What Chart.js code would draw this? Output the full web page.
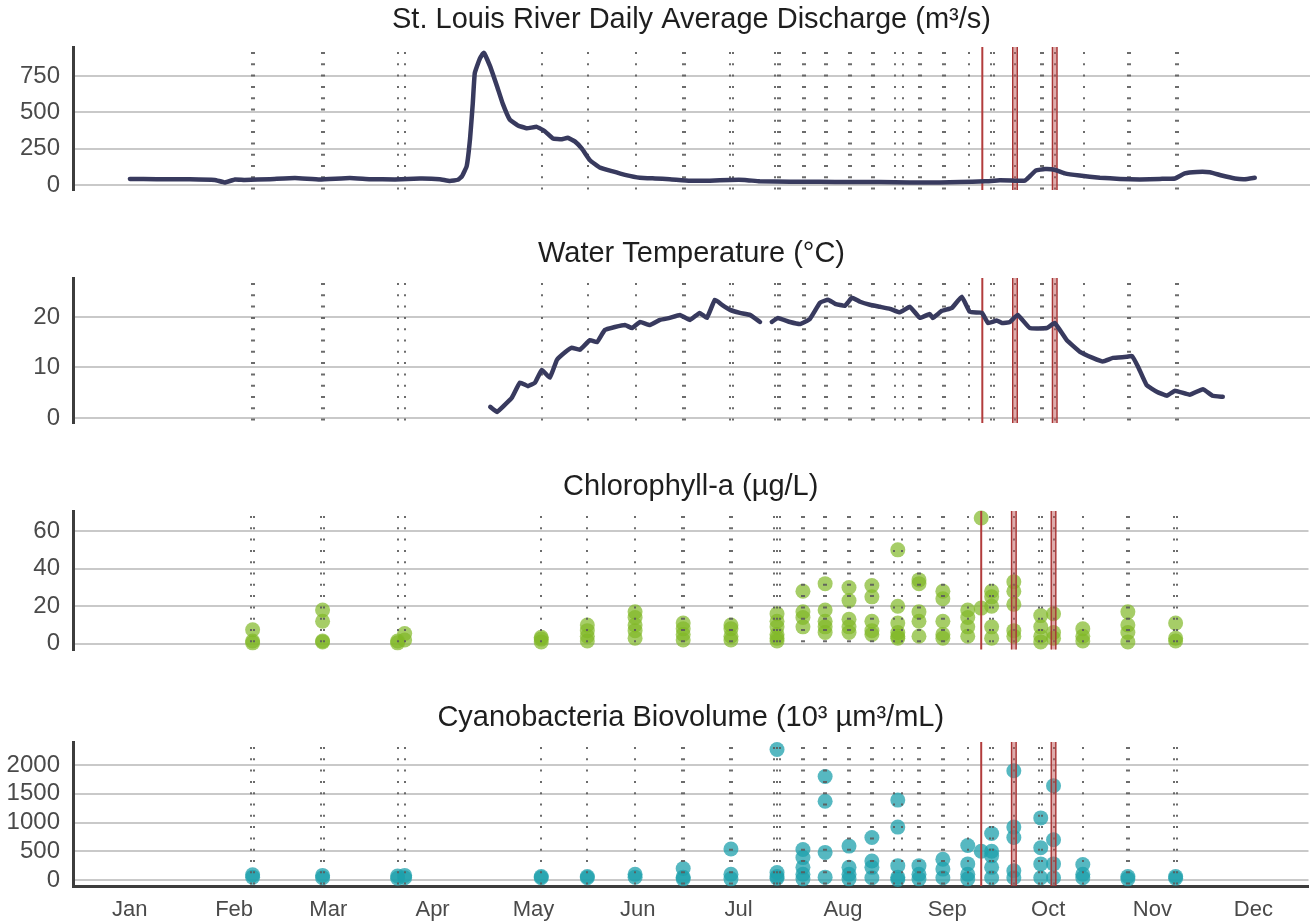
<!DOCTYPE html>
<html>
<head>
<meta charset="utf-8">
<script src="https://cdn.jsdelivr.net/npm/chart.js@4.4.1/dist/chart.umd.min.js"></script>
<style>
  html, body { margin: 0; padding: 0; background: #fff; overflow: hidden; }
  canvas { position: absolute; left: 0; }
</style>
</head>
<body>
<canvas id="cQ" width="1316" height="192" style="top:0px"></canvas>
<canvas id="cT" width="1316" height="194" style="top:231px"></canvas>
<canvas id="cChl" width="1316" height="193" style="top:464px"></canvas>
<canvas id="cCy" width="1316" height="228" style="top:695px"></canvas>
<script>
// --- Data (x = day of year) ---
const monthStarts = [1, 32, 60, 91, 121, 152, 182, 213, 244, 274, 305, 335];
const monthNames = ['Jan', 'Feb', 'Mar', 'Apr', 'May', 'Jun', 'Jul', 'Aug', 'Sep', 'Oct', 'Nov', 'Dec'];

// daily average discharge (m3/s)
const qDays = [1, 9, 18.8, 26.2, 29.2, 32.2, 35, 42.6, 50, 57.4, 66.3, 72.3, 79.7, 87.1, 93, 96, 98.4, 99.6, 101, 102,
  102.8, 103.4, 104.9, 106.1, 107.9, 110, 111.7, 113.8, 116.2, 118.9, 121.8, 124.2, 126.6, 129.3, 131, 133.1, 135.2, 137.6, 140.5, 144.1,
  148, 152.4, 156.9, 161.3, 167.3, 173.2, 179.1, 183.6, 188, 197, 205.9, 214.8, 223.7, 232.6, 241.5, 247.4, 254.9, 259.3, 263.8, 266.7,
  268.2, 270, 272.7, 275.6, 278.6, 283, 289, 295, 300.9, 306.8, 311.3, 314.2, 317.8, 321.7, 325.2, 329.1, 332, 335];
const qVals = [42, 40, 40, 35, 18, 38, 35, 40, 48, 38, 48, 40, 38, 44, 40, 28, 36, 60, 130, 320,
  560, 770, 870, 910, 820, 680, 560, 450, 410, 390, 400, 370, 320, 315, 325, 300, 250, 170, 120, 95,
  70, 50, 45, 40, 30, 30, 35, 35, 25, 22, 22, 20, 20, 18, 18, 20, 25, 32, 30, 30,
  60, 100, 110, 105, 80, 65, 50, 42, 38, 42, 45, 80, 90, 88, 65, 45, 40, 50];

// water temperature (deg C), null = gap in record
const tDays = [108, 110, 112.3, 114.4, 116.8, 119.2, 121.3, 123.3, 125.7, 127.8, 130.2, 132.2, 134.6, 137.6, 139.7, 142, 145, 148, 150.1, 152.5,
  155.4, 158.4, 161.3, 164.3, 167.3, 170.2, 172.3, 174.7, 176.8, 179.2, 182.1, 185.1, 188.1, 189.8, 191.6, 193.4, 197, 200, 202.9, 205.9,
  208.3, 210.4, 213.3, 215.4, 217.8, 220.7, 223.7, 226.7, 229.6, 232.6, 235.6, 238.5, 239.4, 242.1, 245.1, 248, 250.4, 254, 255.8, 258.4,
  259.9, 262.3, 264.6, 268.2, 273.3, 275.6, 279.2, 283.1, 286.9, 289.9, 292.9, 297, 298.5, 300.3, 302.9, 305.9, 308.9, 311.3, 315.7, 319.6,
  322.5, 325.5];
const tVals = [2.2, 1.2, 2.6, 4.0, 7.0, 6.3, 7.0, 9.5, 8.0, 11.5, 13.0, 13.9, 13.5, 15.4, 15.0, 17.4, 18.0, 18.4, 17.8, 19.0,
  18.4, 19.4, 19.8, 20.4, 19.4, 20.8, 19.8, 23.4, 22.4, 21.4, 20.8, 20.4, 19.0, null, 19.0, 19.8, 19.0, 18.6, 19.6, 22.8,
  23.4, 22.6, 22.2, 23.8, 23.0, 22.4, 22.0, 21.6, 20.9, 22.0, 19.8, 20.6, 19.8, 21.2, 21.8, 24.0, 21.0, 20.8, 18.8, 19.3,
  18.8, 19.0, 20.4, 17.8, 17.8, 18.8, 15.4, 13.1, 11.9, 11.2, 11.9, 12.1, 12.3, 10.2, 6.5, 5.2, 4.4, 5.4, 4.6, 5.7,
  4.4, 4.2];

// sampling dates (dotted lines) and number of stations sampled that date
const sampleDays = [37.5, 58.3, 80.6, 82.7, 123.3, 137.0, 151.2, 165.5, 179.7, 193.4, 201.1, 207.7, 214.8, 221.6, 228.1, 230.5,
  235.6, 242.7, 250.1, 257.2, 263.8, 271.8, 275.6, 284.3, 297.7, 311.9];
const sampleSites = [2, 2, 1, 1, 1, 1, 1, 2, 2, 3, 2, 2, 2, 2, 1, 1, 2, 2, 1, 2, 1, 2, 1, 1, 2, 2];
// bloom dates (red lines)
const bloomDays = [254.1, 263.8, 275.6];
const bloomMulti = [false, true, true];

// sample dates for chlorophyll / cyanobacteria points
const obsDays = [37.5, 58.3, 80.6, 82.7, 123.3, 137.0, 151.2, 165.5, 179.7, 193.4, 201.1, 207.7, 214.8, 221.6, 229.3,
  235.6, 242.7, 250.1, 254.1, 257.2, 263.8, 271.8, 275.6, 284.3, 297.7, 311.9];
const chlVals = [
  [0.5, 1.5, 7.5], [1, 1.5, 12, 18], [0.5, 1.5], [2, 5.5], [1, 2.5, 3.5], [1.5, 4, 7, 10], [3, 7, 10, 14, 17],
  [2, 5, 8, 11], [2, 4, 8, 10], [1.5, 3, 5, 9, 12, 16], [9, 14, 17, 28], [6, 9, 12, 18, 32], [6, 9, 13, 23, 30],
  [5, 7, 12, 25, 31], [3, 4, 6, 11, 20, 50], [4, 12, 17, 32, 34], [3, 5, 12, 24, 28], [4, 9, 14, 18], [19, 67],
  [3, 9, 20, 25, 28], [4, 7, 21, 28, 33], [1, 4, 9, 15], [3, 6, 16], [1.5, 4, 8], [1, 6, 10, 17], [1.5, 3, 11]
];
const cyanoVals = [
  [50, 90], [40, 80], [30, 70], [40, 80], [40, 60], [40, 60], [50, 100],
  [20, 50, 200], [20, 100, 540], [30, 60, 130, 2270], [20, 100, 220, 390, 530], [50, 480, 1370, 1800], [20, 100, 220, 590],
  [40, 220, 330, 740], [10, 50, 250, 920, 1390], [20, 100, 250], [40, 190, 360], [20, 100, 280, 600], [500],
  [40, 220, 420, 500, 810], [40, 160, 740, 920, 1900], [40, 280, 560, 1080], [40, 280, 700, 1640], [40, 100, 270], [20, 60], [30, 60]
];

const qTicks = [0, 250, 500, 750];
const tTicks = [0, 10, 20];
const chlTicks = [0, 20, 40, 60];
const cyTicks = [0, 500, 1000, 1500, 2000];

// --- Styling ---
Chart.defaults.font.family = '"Liberation Sans", Arial, Helvetica, sans-serif';
const TXT = '#4a4a4a';
const LINE = '#383a5e';

// vertical reference lines: sampling dates (dotted) and bloom dates (red)
const refLines = {
  id: 'refLines',
  beforeDatasetsDraw(chart, args, opts) { if (!opts.over) drawRefs(chart); },
  afterDatasetsDraw(chart, args, opts) { if (opts.over) drawRefs(chart); }
};

function drawRefs(chart) {
  const ctx = chart.ctx, xs = chart.scales.x, a = chart.chartArea;
  ctx.save();
  ctx.strokeStyle = '#5c5c5c';
  ctx.lineWidth = 1.8;
  ctx.setLineDash([2, 9.3]);
  sampleDays.forEach((d, i) => {
    const n = sampleSites[i];
    for (let k = 0; k < n; k++) {
      const px = Math.round(xs.getPixelForValue(d) + (k - (n - 1) / 2) * 2.6);
      ctx.beginPath();
      ctx.moveTo(px, a.top + 5);
      ctx.lineTo(px, a.bottom);
      ctx.stroke();
    }
  });
  ctx.setLineDash([]);
  bloomDays.forEach((d, i) => {
    const px = xs.getPixelForValue(d);
    if (bloomMulti[i]) {
      ctx.fillStyle = 'rgba(190,90,90,0.5)';
      ctx.fillRect(px - 2.5, a.top, 5, a.bottom - a.top);
      ctx.strokeStyle = '#a83434';
      ctx.lineWidth = 1.4;
      [-2.3, 2.3].forEach(o => {
        ctx.beginPath(); ctx.moveTo(px + o, a.top); ctx.lineTo(px + o, a.bottom); ctx.stroke();
      });
    } else {
      ctx.strokeStyle = '#b23c3c';
      ctx.lineWidth = 2;
      ctx.beginPath(); ctx.moveTo(px, a.top); ctx.lineTo(px, a.bottom); ctx.stroke();
    }
  });
  ctx.restore();
}

function yAxis(min, max, ticks) {
  return {
    type: 'linear', min: min, max: max,
    afterBuildTicks: s => { s.ticks = ticks.map(v => ({ value: v })); },
    // fixed axis width, and no extra label padding above/below the plot
    afterFit: s => { s.width = 73; s.paddingTop = 0; s.paddingBottom = 0; },
    grid: { color: '#c9c9c9', lineWidth: 2, drawTicks: false },
    border: { display: true, color: '#3d3d3d', width: 3 },
    ticks: { color: TXT, font: { size: 24 }, padding: 13, callback: v => String(v) }
  };
}

function xAxis(show) {
  const ax = { type: 'linear', min: -15.9, max: 351.4, display: show };
  if (show) {
    Object.assign(ax, {
      afterBuildTicks: s => { s.ticks = monthStarts.map(v => ({ value: v })); },
      afterFit: s => { s.height = 37; s.paddingLeft = 0; s.paddingRight = 0; },
      grid: { display: false, drawTicks: false },
      border: { display: true, color: '#3d3d3d', width: 3 },
      ticks: { color: TXT, font: { size: 22 }, padding: 11, autoSkip: false, maxRotation: 0,
        callback: (v, i) => monthNames[i] }
    });
  }
  return ax;
}

function makePanel(id, title, titlePad, datasets, yScale, showX, refsOver) {
  return new Chart(document.getElementById(id), {
    data: { datasets: datasets },
    options: {
      responsive: false, animation: false, events: [],
      layout: { padding: { left: 0, right: 6, top: 0, bottom: showX ? 0 : 2 } },
      scales: { x: xAxis(showX), y: yScale },
      plugins: {
        legend: { display: false },
        tooltip: { enabled: false },
        title: { display: true, text: title, color: '#1e1e1e', fullSize: false,
          font: { size: 29, weight: 'normal' }, padding: titlePad },
        refLines: { over: refsOver }
      }
    },
    plugins: [refLines]
  });
}

function lineSet(days, vals) {
  return { type: 'line', data: days.map((d, i) => ({ x: d, y: vals[i] })),
    borderColor: LINE, borderWidth: 4.5, pointRadius: 0, tension: 0.1, spanGaps: false,
    borderJoinStyle: 'round', borderCapStyle: 'round' };
}

function pointSet(vals, color) {
  const pts = [];
  obsDays.forEach((d, i) => vals[i].forEach(v => pts.push({ x: d, y: v })));
  return { type: 'scatter', data: pts, backgroundColor: color, borderWidth: 0,
    pointRadius: 7.5, clip: false };
}

makePanel('cQ', 'St. Louis River Daily Average Discharge (m³/s)', { top: 2.6, bottom: 9.6 },
  [lineSet(qDays, qVals)], yAxis(-34.4, 949.5, qTicks), false, false);
makePanel('cT', 'Water Temperature (°C)', { top: 5.6, bottom: 6.6 },
  [lineSet(tDays, tVals)], yAxis(-0.99, 27.7, tTicks), false, false);
makePanel('cChl', 'Chlorophyll-a (µg/L)', { top: 5.6, bottom: 6.6 },
  [pointSet(chlVals, 'rgba(128,184,38,0.7)')], yAxis(-3.05, 70.7, chlTicks), false, true);
makePanel('cCy', 'Cyanobacteria Biovolume (10³ µm³/mL)', { top: 5.6, bottom: 6.6 },
  [pointSet(cyanoVals, 'rgba(30,160,172,0.75)')], yAxis(-104, 2400, cyTicks), true, true);
</script>
</body>
</html>
